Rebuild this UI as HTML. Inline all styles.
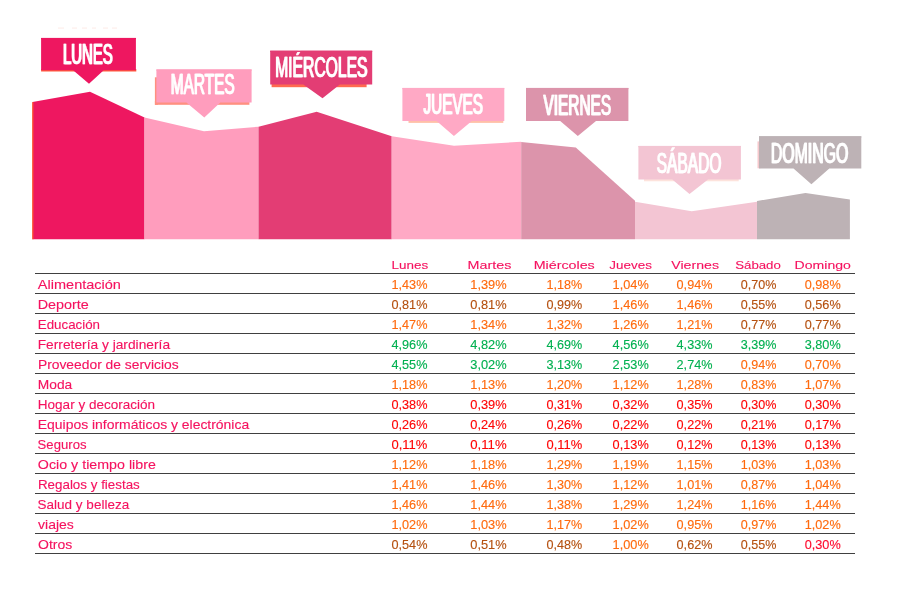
<!DOCTYPE html>
<html lang="es"><head><meta charset="utf-8"><title>Días de la semana</title>
<style>
html,body{margin:0;padding:0;background:#fff;}
svg{display:block}
text{font-family:"Liberation Sans",sans-serif;stroke-width:0.12px;}
.tag{stroke:#fff;stroke-width:0.4px;}
</style></head><body>
<svg width="900" height="600" viewBox="0 0 900 600">
<rect width="900" height="600" fill="#fff"/>
<polygon points="32.5,102 90,91.7 144.5,117.5 144.5,239.3 32.5,239.3" fill="#ee1760"/>
<polygon points="144.5,117.5 204,131.3 258.5,126.7 258.5,239.3 144.5,239.3" fill="#ff9dbd"/>
<polygon points="258.5,126.7 316.7,111.7 391.7,136.3 391.7,239.3 258.5,239.3" fill="#e33d74"/>
<polygon points="391.7,136.3 454,145.8 521.2,141.8 521.2,239.3 391.7,239.3" fill="#ffa9c5"/>
<polygon points="521.2,142 575.8,147.5 635,200.8 635,239.3 521.2,239.3" fill="#dc94ab"/>
<polygon points="635,201.7 691.7,211.3 757,201.7 757,239.3 635,239.3" fill="#f3c5d3"/>
<polygon points="757,201 805.5,193 849.9,199.6 849.9,239.3 757,239.3" fill="#bdb2b5"/>
<rect x="32.2" y="102.2" width="1.2" height="137.1" fill="#ff5a2e"/>
<rect x="41.1" y="69" width="95.2" height="2.5" fill="#ff5a3c"/>
<rect x="154.9" y="77.3" width="3" height="27.5" fill="#ff9080"/>
<rect x="154.9" y="101" width="94.5" height="3.8" fill="#ff9080"/>
<rect x="271.6" y="83" width="95" height="4.2" fill="#ff6a50"/>
<rect x="408.5" y="120" width="94.8" height="2.9" fill="#ffc0a8"/>
<rect x="644" y="178" width="94.7" height="3.3" fill="#fde3dc"/>
<rect x="757.5" y="141.4" width="3" height="26.9" fill="#f6c8cc"/>
<g fill="#f7a08c" opacity="0.18"><rect x="58" y="27.5" width="6" height="1.2"/><rect x="72" y="27.5" width="5" height="1.2"/><rect x="82" y="27.5" width="5" height="1.2"/><rect x="92" y="27.5" width="4" height="1.2"/><rect x="103" y="27.5" width="5" height="1.2"/><rect x="112" y="27.5" width="5" height="1.2"/></g>
<path d="M41.1,37.9H135.9V70.2H103.7L89,83.7L73.1,70.2H41.1Z" fill="#ee1760"/>
<path d="M156.4,69.4H251.6V102.6H220.3L204.3,117.6L186.4,102.6H156.4Z" fill="#ff9dbd"/>
<path d="M270.2,50.7H372.2V84.5H339.8L322.5,98.3L303.3,84.5H270.2Z" fill="#e33d74"/>
<path d="M402.4,87.9H504.3V121.1H471.8L453.9,136L436.6,121.1H402.4Z" fill="#ffa9c5"/>
<path d="M526,87.9H628.4V121.1H596L577.8,136L560.2,121.1H526Z" fill="#dc94ab"/>
<path d="M638.4,145.9H740.9V179.5H708L689.5,194L672.3,179.5H638.4Z" fill="#f3c5d3"/>
<path d="M759,136.3H861.3V168.6H829.3L811.4,184.2L793.5,168.6H759Z" fill="#bdb2b5"/>
<rect x="35" y="273" width="820" height="1" fill="#404040"/>
<rect x="35" y="293" width="820" height="1" fill="#404040"/>
<rect x="35" y="313" width="820" height="1" fill="#404040"/>
<rect x="35" y="333" width="820" height="1" fill="#404040"/>
<rect x="35" y="353" width="820" height="1" fill="#404040"/>
<rect x="35" y="373" width="820" height="1" fill="#404040"/>
<rect x="35" y="393" width="820" height="1" fill="#404040"/>
<rect x="35" y="413" width="820" height="1" fill="#404040"/>
<rect x="35" y="433" width="820" height="1" fill="#404040"/>
<rect x="35" y="453" width="820" height="1" fill="#404040"/>
<rect x="35" y="473" width="820" height="1" fill="#404040"/>
<rect x="35" y="493" width="820" height="1" fill="#404040"/>
<rect x="35" y="513" width="820" height="1" fill="#404040"/>
<rect x="35" y="533" width="820" height="1" fill="#404040"/>
<rect x="35" y="553" width="820" height="1" fill="#404040"/>
<text id="tglun" class="tag" x="62.51" y="64.4" font-size="29.5" fill="#fff" textLength="49.82" lengthAdjust="spacingAndGlyphs">LUNES</text><use href="#tglun" x="0.9"/>
<rect x="41.1" y="37.9" width="94.8" height="1.3" fill="#ee1760"/>
<text id="tgmar" class="tag" x="170.31" y="93.9" font-size="29.5" fill="#fff" textLength="63.88" lengthAdjust="spacingAndGlyphs">MARTES</text><use href="#tgmar" x="0.9"/>
<rect x="156.4" y="69.4" width="95.2" height="1.3" fill="#ff9dbd"/>
<text id="tgmie" class="tag" x="274.65" y="77.2" font-size="29.5" fill="#fff" textLength="92.45" lengthAdjust="spacingAndGlyphs">MIÉRCOLES</text><use href="#tgmie" x="0.9"/>
<rect x="270.2" y="50.7" width="102.0" height="1.3" fill="#e33d74"/>
<text id="tgjue" class="tag" x="423.09" y="114.1" font-size="29.5" fill="#fff" textLength="59.39" lengthAdjust="spacingAndGlyphs">JUEVES</text><use href="#tgjue" x="0.9"/>
<rect x="402.4" y="87.9" width="101.9" height="1.3" fill="#ffa9c5"/>
<text id="tgvie" class="tag" x="543.02" y="115.1" font-size="29.5" fill="#fff" textLength="67.66" lengthAdjust="spacingAndGlyphs">VIERNES</text><use href="#tgvie" x="0.9"/>
<rect x="526" y="87.9" width="102.4" height="1.3" fill="#dc94ab"/>
<text id="tgsab" class="tag" x="656.20" y="173.1" font-size="29.5" fill="#fff" textLength="64.85" lengthAdjust="spacingAndGlyphs">SÁBADO</text><use href="#tgsab" x="0.9"/>
<rect x="638.4" y="145.9" width="102.5" height="1.3" fill="#f3c5d3"/>
<text id="tgdom" class="tag" x="770.42" y="163.3" font-size="29.5" fill="#fff" textLength="77.41" lengthAdjust="spacingAndGlyphs">DOMINGO</text><use href="#tgdom" x="0.9"/>
<rect x="759" y="136.3" width="102.3" height="1.3" fill="#bdb2b5"/>
<text x="391.62" y="268.7" font-size="11.7" fill="#f5125f" stroke="#f5125f" textLength="36.61" lengthAdjust="spacingAndGlyphs">Lunes</text>
<text x="467.50" y="268.7" font-size="11.7" fill="#f5125f" stroke="#f5125f" textLength="43.81" lengthAdjust="spacingAndGlyphs">Martes</text>
<text x="533.68" y="268.7" font-size="11.7" fill="#f5125f" stroke="#f5125f" textLength="61.08" lengthAdjust="spacingAndGlyphs">Miércoles</text>
<text x="609.36" y="268.7" font-size="11.7" fill="#f5125f" stroke="#f5125f" textLength="42.50" lengthAdjust="spacingAndGlyphs">Jueves</text>
<text x="671.31" y="268.7" font-size="11.7" fill="#f5125f" stroke="#f5125f" textLength="47.67" lengthAdjust="spacingAndGlyphs">Viernes</text>
<text x="735.20" y="268.7" font-size="11.7" fill="#f5125f" stroke="#f5125f" textLength="45.67" lengthAdjust="spacingAndGlyphs">Sábado</text>
<text x="794.64" y="268.7" font-size="11.7" fill="#f5125f" stroke="#f5125f" textLength="56.25" lengthAdjust="spacingAndGlyphs">Domingo</text>
<text x="37.86" y="288.7" font-size="12.2" fill="#f5125f" stroke="#f5125f" textLength="83.08" lengthAdjust="spacingAndGlyphs">Alimentación</text>
<text x="37.73" y="308.7" font-size="12.2" fill="#f5125f" stroke="#f5125f" textLength="51.13" lengthAdjust="spacingAndGlyphs">Deporte</text>
<text x="37.82" y="328.7" font-size="12.2" fill="#f5125f" stroke="#f5125f" textLength="62.22" lengthAdjust="spacingAndGlyphs">Educación</text>
<text x="37.73" y="348.7" font-size="12.2" fill="#f5125f" stroke="#f5125f" textLength="132.32" lengthAdjust="spacingAndGlyphs">Ferretería y jardinería</text>
<text x="37.92" y="368.7" font-size="12.2" fill="#f5125f" stroke="#f5125f" textLength="140.79" lengthAdjust="spacingAndGlyphs">Proveedor de servicios</text>
<text x="37.77" y="388.7" font-size="12.2" fill="#f5125f" stroke="#f5125f" textLength="34.45" lengthAdjust="spacingAndGlyphs">Moda</text>
<text x="37.79" y="408.7" font-size="12.2" fill="#f5125f" stroke="#f5125f" textLength="117.35" lengthAdjust="spacingAndGlyphs">Hogar y decoración</text>
<text x="37.79" y="428.7" font-size="12.2" fill="#f5125f" stroke="#f5125f" textLength="211.40" lengthAdjust="spacingAndGlyphs">Equipos informáticos y electrónica</text>
<text x="37.62" y="448.7" font-size="12.2" fill="#f5125f" stroke="#f5125f" textLength="48.92" lengthAdjust="spacingAndGlyphs">Seguros</text>
<text x="37.85" y="468.7" font-size="12.2" fill="#f5125f" stroke="#f5125f" textLength="118.00" lengthAdjust="spacingAndGlyphs">Ocio y tiempo libre</text>
<text x="37.92" y="488.7" font-size="12.2" fill="#f5125f" stroke="#f5125f" textLength="101.91" lengthAdjust="spacingAndGlyphs">Regalos y fiestas</text>
<text x="37.61" y="508.7" font-size="12.2" fill="#f5125f" stroke="#f5125f" textLength="91.54" lengthAdjust="spacingAndGlyphs">Salud y belleza</text>
<text x="38.08" y="528.7" font-size="12.2" fill="#f5125f" stroke="#f5125f" textLength="35.76" lengthAdjust="spacingAndGlyphs">viajes</text>
<text x="38.00" y="548.7" font-size="12.2" fill="#f5125f" stroke="#f5125f" textLength="34.26" lengthAdjust="spacingAndGlyphs">Otros</text>
<text x="391.47" y="288.7" font-size="12.2" fill="#ff6a0d" stroke="#ff6a0d" textLength="35.94" lengthAdjust="spacingAndGlyphs">1,43%</text>
<text x="470.29" y="288.7" font-size="12.2" fill="#ff6a0d" stroke="#ff6a0d" textLength="36.38" lengthAdjust="spacingAndGlyphs">1,39%</text>
<text x="546.48" y="288.7" font-size="12.2" fill="#ff6a0d" stroke="#ff6a0d" textLength="35.74" lengthAdjust="spacingAndGlyphs">1,18%</text>
<text x="612.64" y="288.7" font-size="12.2" fill="#ff6a0d" stroke="#ff6a0d" textLength="36.07" lengthAdjust="spacingAndGlyphs">1,04%</text>
<text x="676.59" y="288.7" font-size="12.2" fill="#ff6a0d" stroke="#ff6a0d" textLength="35.89" lengthAdjust="spacingAndGlyphs">0,94%</text>
<text x="740.89" y="288.7" font-size="12.2" fill="#b5500f" stroke="#b5500f" textLength="35.61" lengthAdjust="spacingAndGlyphs">0,70%</text>
<text x="804.67" y="288.7" font-size="12.2" fill="#ff6a0d" stroke="#ff6a0d" textLength="36.03" lengthAdjust="spacingAndGlyphs">0,98%</text>
<text x="391.47" y="308.7" font-size="12.2" fill="#b5500f" stroke="#b5500f" textLength="35.94" lengthAdjust="spacingAndGlyphs">0,81%</text>
<text x="470.29" y="308.7" font-size="12.2" fill="#b5500f" stroke="#b5500f" textLength="36.38" lengthAdjust="spacingAndGlyphs">0,81%</text>
<text x="546.48" y="308.7" font-size="12.2" fill="#b5500f" stroke="#b5500f" textLength="35.74" lengthAdjust="spacingAndGlyphs">0,99%</text>
<text x="612.64" y="308.7" font-size="12.2" fill="#ff6a0d" stroke="#ff6a0d" textLength="36.07" lengthAdjust="spacingAndGlyphs">1,46%</text>
<text x="676.59" y="308.7" font-size="12.2" fill="#ff6a0d" stroke="#ff6a0d" textLength="35.89" lengthAdjust="spacingAndGlyphs">1,46%</text>
<text x="740.89" y="308.7" font-size="12.2" fill="#b5500f" stroke="#b5500f" textLength="35.61" lengthAdjust="spacingAndGlyphs">0,55%</text>
<text x="804.67" y="308.7" font-size="12.2" fill="#b5500f" stroke="#b5500f" textLength="36.03" lengthAdjust="spacingAndGlyphs">0,56%</text>
<text x="391.47" y="328.7" font-size="12.2" fill="#ff6a0d" stroke="#ff6a0d" textLength="35.94" lengthAdjust="spacingAndGlyphs">1,47%</text>
<text x="470.29" y="328.7" font-size="12.2" fill="#ff6a0d" stroke="#ff6a0d" textLength="36.38" lengthAdjust="spacingAndGlyphs">1,34%</text>
<text x="546.48" y="328.7" font-size="12.2" fill="#ff6a0d" stroke="#ff6a0d" textLength="35.74" lengthAdjust="spacingAndGlyphs">1,32%</text>
<text x="612.64" y="328.7" font-size="12.2" fill="#ff6a0d" stroke="#ff6a0d" textLength="36.07" lengthAdjust="spacingAndGlyphs">1,26%</text>
<text x="676.59" y="328.7" font-size="12.2" fill="#ff6a0d" stroke="#ff6a0d" textLength="35.89" lengthAdjust="spacingAndGlyphs">1,21%</text>
<text x="740.89" y="328.7" font-size="12.2" fill="#b5500f" stroke="#b5500f" textLength="35.61" lengthAdjust="spacingAndGlyphs">0,77%</text>
<text x="804.67" y="328.7" font-size="12.2" fill="#b5500f" stroke="#b5500f" textLength="36.03" lengthAdjust="spacingAndGlyphs">0,77%</text>
<text x="391.47" y="348.7" font-size="12.2" fill="#00b050" stroke="#00b050" textLength="35.94" lengthAdjust="spacingAndGlyphs">4,96%</text>
<text x="470.29" y="348.7" font-size="12.2" fill="#00b050" stroke="#00b050" textLength="36.38" lengthAdjust="spacingAndGlyphs">4,82%</text>
<text x="546.48" y="348.7" font-size="12.2" fill="#00b050" stroke="#00b050" textLength="35.74" lengthAdjust="spacingAndGlyphs">4,69%</text>
<text x="612.64" y="348.7" font-size="12.2" fill="#00b050" stroke="#00b050" textLength="36.07" lengthAdjust="spacingAndGlyphs">4,56%</text>
<text x="676.59" y="348.7" font-size="12.2" fill="#00b050" stroke="#00b050" textLength="35.89" lengthAdjust="spacingAndGlyphs">4,33%</text>
<text x="740.89" y="348.7" font-size="12.2" fill="#00b050" stroke="#00b050" textLength="35.61" lengthAdjust="spacingAndGlyphs">3,39%</text>
<text x="804.67" y="348.7" font-size="12.2" fill="#00b050" stroke="#00b050" textLength="36.03" lengthAdjust="spacingAndGlyphs">3,80%</text>
<text x="391.47" y="368.7" font-size="12.2" fill="#00b050" stroke="#00b050" textLength="35.94" lengthAdjust="spacingAndGlyphs">4,55%</text>
<text x="470.29" y="368.7" font-size="12.2" fill="#00b050" stroke="#00b050" textLength="36.38" lengthAdjust="spacingAndGlyphs">3,02%</text>
<text x="546.48" y="368.7" font-size="12.2" fill="#00b050" stroke="#00b050" textLength="35.74" lengthAdjust="spacingAndGlyphs">3,13%</text>
<text x="612.64" y="368.7" font-size="12.2" fill="#00b050" stroke="#00b050" textLength="36.07" lengthAdjust="spacingAndGlyphs">2,53%</text>
<text x="676.59" y="368.7" font-size="12.2" fill="#00b050" stroke="#00b050" textLength="35.89" lengthAdjust="spacingAndGlyphs">2,74%</text>
<text x="740.89" y="368.7" font-size="12.2" fill="#ff6a0d" stroke="#ff6a0d" textLength="35.61" lengthAdjust="spacingAndGlyphs">0,94%</text>
<text x="804.67" y="368.7" font-size="12.2" fill="#ff6a0d" stroke="#ff6a0d" textLength="36.03" lengthAdjust="spacingAndGlyphs">0,70%</text>
<text x="391.47" y="388.7" font-size="12.2" fill="#ff6a0d" stroke="#ff6a0d" textLength="35.94" lengthAdjust="spacingAndGlyphs">1,18%</text>
<text x="470.29" y="388.7" font-size="12.2" fill="#ff6a0d" stroke="#ff6a0d" textLength="36.38" lengthAdjust="spacingAndGlyphs">1,13%</text>
<text x="546.48" y="388.7" font-size="12.2" fill="#ff6a0d" stroke="#ff6a0d" textLength="35.74" lengthAdjust="spacingAndGlyphs">1,20%</text>
<text x="612.64" y="388.7" font-size="12.2" fill="#ff6a0d" stroke="#ff6a0d" textLength="36.07" lengthAdjust="spacingAndGlyphs">1,12%</text>
<text x="676.59" y="388.7" font-size="12.2" fill="#ff6a0d" stroke="#ff6a0d" textLength="35.89" lengthAdjust="spacingAndGlyphs">1,28%</text>
<text x="740.89" y="388.7" font-size="12.2" fill="#ff6a0d" stroke="#ff6a0d" textLength="35.61" lengthAdjust="spacingAndGlyphs">0,83%</text>
<text x="804.67" y="388.7" font-size="12.2" fill="#ff6a0d" stroke="#ff6a0d" textLength="36.03" lengthAdjust="spacingAndGlyphs">1,07%</text>
<text x="391.47" y="408.7" font-size="12.2" fill="#ff0505" stroke="#ff0505" textLength="35.94" lengthAdjust="spacingAndGlyphs">0,38%</text>
<text x="470.29" y="408.7" font-size="12.2" fill="#ff0505" stroke="#ff0505" textLength="36.38" lengthAdjust="spacingAndGlyphs">0,39%</text>
<text x="546.48" y="408.7" font-size="12.2" fill="#ff0505" stroke="#ff0505" textLength="35.74" lengthAdjust="spacingAndGlyphs">0,31%</text>
<text x="612.64" y="408.7" font-size="12.2" fill="#ff0505" stroke="#ff0505" textLength="36.07" lengthAdjust="spacingAndGlyphs">0,32%</text>
<text x="676.59" y="408.7" font-size="12.2" fill="#ff0505" stroke="#ff0505" textLength="35.89" lengthAdjust="spacingAndGlyphs">0,35%</text>
<text x="740.89" y="408.7" font-size="12.2" fill="#ff0505" stroke="#ff0505" textLength="35.61" lengthAdjust="spacingAndGlyphs">0,30%</text>
<text x="804.67" y="408.7" font-size="12.2" fill="#ff0505" stroke="#ff0505" textLength="36.03" lengthAdjust="spacingAndGlyphs">0,30%</text>
<text x="391.47" y="428.7" font-size="12.2" fill="#ff0505" stroke="#ff0505" textLength="35.94" lengthAdjust="spacingAndGlyphs">0,26%</text>
<text x="470.29" y="428.7" font-size="12.2" fill="#ff0505" stroke="#ff0505" textLength="36.38" lengthAdjust="spacingAndGlyphs">0,24%</text>
<text x="546.48" y="428.7" font-size="12.2" fill="#ff0505" stroke="#ff0505" textLength="35.74" lengthAdjust="spacingAndGlyphs">0,26%</text>
<text x="612.64" y="428.7" font-size="12.2" fill="#ff0505" stroke="#ff0505" textLength="36.07" lengthAdjust="spacingAndGlyphs">0,22%</text>
<text x="676.59" y="428.7" font-size="12.2" fill="#ff0505" stroke="#ff0505" textLength="35.89" lengthAdjust="spacingAndGlyphs">0,22%</text>
<text x="740.89" y="428.7" font-size="12.2" fill="#ff0505" stroke="#ff0505" textLength="35.61" lengthAdjust="spacingAndGlyphs">0,21%</text>
<text x="804.67" y="428.7" font-size="12.2" fill="#ff0505" stroke="#ff0505" textLength="36.03" lengthAdjust="spacingAndGlyphs">0,17%</text>
<text x="391.47" y="448.7" font-size="12.2" fill="#ff0505" stroke="#ff0505" textLength="35.94" lengthAdjust="spacingAndGlyphs">0,11%</text>
<text x="470.29" y="448.7" font-size="12.2" fill="#ff0505" stroke="#ff0505" textLength="36.38" lengthAdjust="spacingAndGlyphs">0,11%</text>
<text x="546.48" y="448.7" font-size="12.2" fill="#ff0505" stroke="#ff0505" textLength="35.74" lengthAdjust="spacingAndGlyphs">0,11%</text>
<text x="612.64" y="448.7" font-size="12.2" fill="#ff0505" stroke="#ff0505" textLength="36.07" lengthAdjust="spacingAndGlyphs">0,13%</text>
<text x="676.59" y="448.7" font-size="12.2" fill="#ff0505" stroke="#ff0505" textLength="35.89" lengthAdjust="spacingAndGlyphs">0,12%</text>
<text x="740.89" y="448.7" font-size="12.2" fill="#ff0505" stroke="#ff0505" textLength="35.61" lengthAdjust="spacingAndGlyphs">0,13%</text>
<text x="804.67" y="448.7" font-size="12.2" fill="#ff0505" stroke="#ff0505" textLength="36.03" lengthAdjust="spacingAndGlyphs">0,13%</text>
<text x="391.47" y="468.7" font-size="12.2" fill="#ff6a0d" stroke="#ff6a0d" textLength="35.94" lengthAdjust="spacingAndGlyphs">1,12%</text>
<text x="470.29" y="468.7" font-size="12.2" fill="#ff6a0d" stroke="#ff6a0d" textLength="36.38" lengthAdjust="spacingAndGlyphs">1,18%</text>
<text x="546.48" y="468.7" font-size="12.2" fill="#ff6a0d" stroke="#ff6a0d" textLength="35.74" lengthAdjust="spacingAndGlyphs">1,29%</text>
<text x="612.64" y="468.7" font-size="12.2" fill="#ff6a0d" stroke="#ff6a0d" textLength="36.07" lengthAdjust="spacingAndGlyphs">1,19%</text>
<text x="676.59" y="468.7" font-size="12.2" fill="#ff6a0d" stroke="#ff6a0d" textLength="35.89" lengthAdjust="spacingAndGlyphs">1,15%</text>
<text x="740.89" y="468.7" font-size="12.2" fill="#ff6a0d" stroke="#ff6a0d" textLength="35.61" lengthAdjust="spacingAndGlyphs">1,03%</text>
<text x="804.67" y="468.7" font-size="12.2" fill="#ff6a0d" stroke="#ff6a0d" textLength="36.03" lengthAdjust="spacingAndGlyphs">1,03%</text>
<text x="391.47" y="488.7" font-size="12.2" fill="#ff6a0d" stroke="#ff6a0d" textLength="35.94" lengthAdjust="spacingAndGlyphs">1,41%</text>
<text x="470.29" y="488.7" font-size="12.2" fill="#ff6a0d" stroke="#ff6a0d" textLength="36.38" lengthAdjust="spacingAndGlyphs">1,46%</text>
<text x="546.48" y="488.7" font-size="12.2" fill="#ff6a0d" stroke="#ff6a0d" textLength="35.74" lengthAdjust="spacingAndGlyphs">1,30%</text>
<text x="612.64" y="488.7" font-size="12.2" fill="#ff6a0d" stroke="#ff6a0d" textLength="36.07" lengthAdjust="spacingAndGlyphs">1,12%</text>
<text x="676.59" y="488.7" font-size="12.2" fill="#ff6a0d" stroke="#ff6a0d" textLength="35.89" lengthAdjust="spacingAndGlyphs">1,01%</text>
<text x="740.89" y="488.7" font-size="12.2" fill="#ff6a0d" stroke="#ff6a0d" textLength="35.61" lengthAdjust="spacingAndGlyphs">0,87%</text>
<text x="804.67" y="488.7" font-size="12.2" fill="#ff6a0d" stroke="#ff6a0d" textLength="36.03" lengthAdjust="spacingAndGlyphs">1,04%</text>
<text x="391.47" y="508.7" font-size="12.2" fill="#ff6a0d" stroke="#ff6a0d" textLength="35.94" lengthAdjust="spacingAndGlyphs">1,46%</text>
<text x="470.29" y="508.7" font-size="12.2" fill="#ff6a0d" stroke="#ff6a0d" textLength="36.38" lengthAdjust="spacingAndGlyphs">1,44%</text>
<text x="546.48" y="508.7" font-size="12.2" fill="#ff6a0d" stroke="#ff6a0d" textLength="35.74" lengthAdjust="spacingAndGlyphs">1,38%</text>
<text x="612.64" y="508.7" font-size="12.2" fill="#ff6a0d" stroke="#ff6a0d" textLength="36.07" lengthAdjust="spacingAndGlyphs">1,29%</text>
<text x="676.59" y="508.7" font-size="12.2" fill="#ff6a0d" stroke="#ff6a0d" textLength="35.89" lengthAdjust="spacingAndGlyphs">1,24%</text>
<text x="740.89" y="508.7" font-size="12.2" fill="#ff6a0d" stroke="#ff6a0d" textLength="35.61" lengthAdjust="spacingAndGlyphs">1,16%</text>
<text x="804.67" y="508.7" font-size="12.2" fill="#ff6a0d" stroke="#ff6a0d" textLength="36.03" lengthAdjust="spacingAndGlyphs">1,44%</text>
<text x="391.47" y="528.7" font-size="12.2" fill="#ff6a0d" stroke="#ff6a0d" textLength="35.94" lengthAdjust="spacingAndGlyphs">1,02%</text>
<text x="470.29" y="528.7" font-size="12.2" fill="#ff6a0d" stroke="#ff6a0d" textLength="36.38" lengthAdjust="spacingAndGlyphs">1,03%</text>
<text x="546.48" y="528.7" font-size="12.2" fill="#ff6a0d" stroke="#ff6a0d" textLength="35.74" lengthAdjust="spacingAndGlyphs">1,17%</text>
<text x="612.64" y="528.7" font-size="12.2" fill="#ff6a0d" stroke="#ff6a0d" textLength="36.07" lengthAdjust="spacingAndGlyphs">1,02%</text>
<text x="676.59" y="528.7" font-size="12.2" fill="#ff6a0d" stroke="#ff6a0d" textLength="35.89" lengthAdjust="spacingAndGlyphs">0,95%</text>
<text x="740.89" y="528.7" font-size="12.2" fill="#ff6a0d" stroke="#ff6a0d" textLength="35.61" lengthAdjust="spacingAndGlyphs">0,97%</text>
<text x="804.67" y="528.7" font-size="12.2" fill="#ff6a0d" stroke="#ff6a0d" textLength="36.03" lengthAdjust="spacingAndGlyphs">1,02%</text>
<text x="391.47" y="548.7" font-size="12.2" fill="#b5500f" stroke="#b5500f" textLength="35.94" lengthAdjust="spacingAndGlyphs">0,54%</text>
<text x="470.29" y="548.7" font-size="12.2" fill="#b5500f" stroke="#b5500f" textLength="36.38" lengthAdjust="spacingAndGlyphs">0,51%</text>
<text x="546.48" y="548.7" font-size="12.2" fill="#b5500f" stroke="#b5500f" textLength="35.74" lengthAdjust="spacingAndGlyphs">0,48%</text>
<text x="612.64" y="548.7" font-size="12.2" fill="#ff6a0d" stroke="#ff6a0d" textLength="36.07" lengthAdjust="spacingAndGlyphs">1,00%</text>
<text x="676.59" y="548.7" font-size="12.2" fill="#b5500f" stroke="#b5500f" textLength="35.89" lengthAdjust="spacingAndGlyphs">0,62%</text>
<text x="740.89" y="548.7" font-size="12.2" fill="#b5500f" stroke="#b5500f" textLength="35.61" lengthAdjust="spacingAndGlyphs">0,55%</text>
<text x="804.67" y="548.7" font-size="12.2" fill="#ff0a2d" stroke="#ff0a2d" textLength="36.03" lengthAdjust="spacingAndGlyphs">0,30%</text>
</svg>
</body></html>
